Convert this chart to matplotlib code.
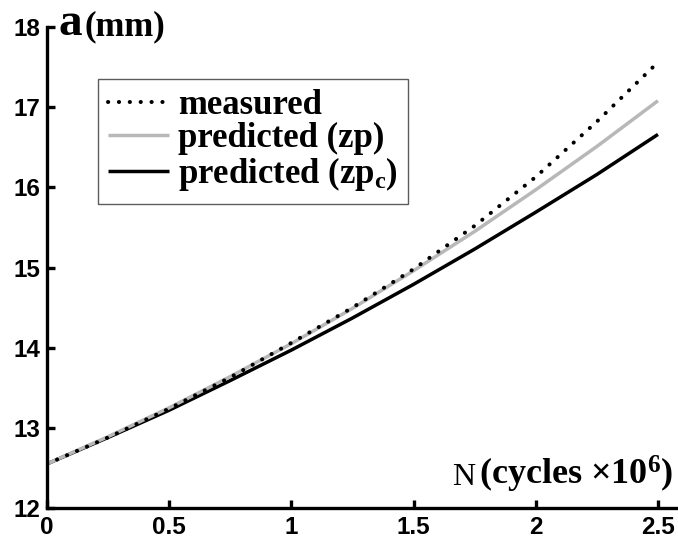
import matplotlib
matplotlib.use("Agg")
import matplotlib.pyplot as plt

plt.rcParams['mathtext.fontset'] = 'custom'
plt.rcParams['mathtext.rm'] = 'Liberation Serif:bold'
plt.rcParams['mathtext.it'] = 'Liberation Serif:bold'
plt.rcParams['mathtext.bf'] = 'Liberation Serif:bold'

N = [0.0, 0.25, 0.5, 0.75, 1.0, 1.25, 1.5, 1.75, 2.0, 2.25, 2.5]
measured = [12.55, 12.88, 13.24, 13.63, 14.06, 14.50, 14.98, 15.52, 16.13, 16.82, 17.56]
pred_zp = [12.55, 12.89, 13.25, 13.64, 14.05, 14.49, 14.96, 15.45, 15.97, 16.51, 17.08]
pred_zpc = [12.55, 12.88, 13.22, 13.59, 13.97, 14.37, 14.79, 15.23, 15.69, 16.16, 16.66]
xticks = [0, 0.5, 1, 1.5, 2, 2.5]
xticklabels = ['0', '0.5', '1', '1.5', '2', '2.5']
yticks = [12, 13, 14, 15, 16, 17, 18]
labels = ['measured', 'predicted (zp)', 'predicted (zp$_{\\mathrm{c}}$)']

W, H = 678, 543
fig = plt.figure(figsize=(W / 100, H / 100), dpi=100)
ax = fig.add_axes([47 / W, 35 / H, 631 / W, (508 - 27) / H])

l3, = ax.plot(N, pred_zpc, color='black', lw=2.5, solid_capstyle='butt')
l2, = ax.plot(N, pred_zp, color='#b8b8b8', lw=2.5, solid_capstyle='butt')
l1, = ax.plot(N, measured, color='black', lw=2.9, linestyle=(0, (0.05, 2.65)),
              dash_capstyle='round')

ax.set_xlim(0, 2.582)
ax.set_ylim(12, 18)
ax.set_xticks(xticks)
ax.set_xticklabels(xticklabels)
ax.set_yticks(yticks)
for s in ['top', 'right']:
    ax.spines[s].set_visible(False)
for s in ['left', 'bottom']:
    ax.spines[s].set_linewidth(2.4)
ax.tick_params(direction='in', length=6, width=2.4, labelsize=17.5, pad=5)
ax.tick_params(axis='x', pad=6)
for lab in ax.get_xticklabels() + ax.get_yticklabels():
    lab.set_fontfamily('Liberation Sans')
    lab.set_fontweight('bold')

leg = ax.legend([l1, l2, l3], labels, loc='upper left',
                bbox_to_anchor=(51 / 631, (508 - 79) / 481),
                prop={'family': 'Liberation Serif', 'weight': 'bold', 'size': 25},
                frameon=True, fancybox=False, edgecolor='#333333',
                handlelength=1.75, handletextpad=0.25, labelspacing=0.0,
                borderpad=0.3, borderaxespad=0)
leg.get_frame().set_linewidth(1.0)

fig.text(58 / W, 1 - 35 / H, 'a', fontfamily='Liberation Serif', fontweight='bold',
         fontsize=34, va='baseline', ha='left')
fig.text(85 / W, 1 - 35 / H, '(mm)', fontfamily='Liberation Serif', fontweight='bold',
         fontsize=25, va='baseline', ha='left')

fig.text(452 / W, 1 - 485 / H, 'N', fontfamily='Liberation Serif',
         fontsize=23, va='baseline', ha='left')
fig.text(673 / W, 1 - 485 / H, '(cycles \u00d710$^{6}$)', fontfamily='Liberation Serif',
         fontweight='bold', fontsize=26, va='baseline', ha='right')

fig.savefig('out.png', dpi=100)
